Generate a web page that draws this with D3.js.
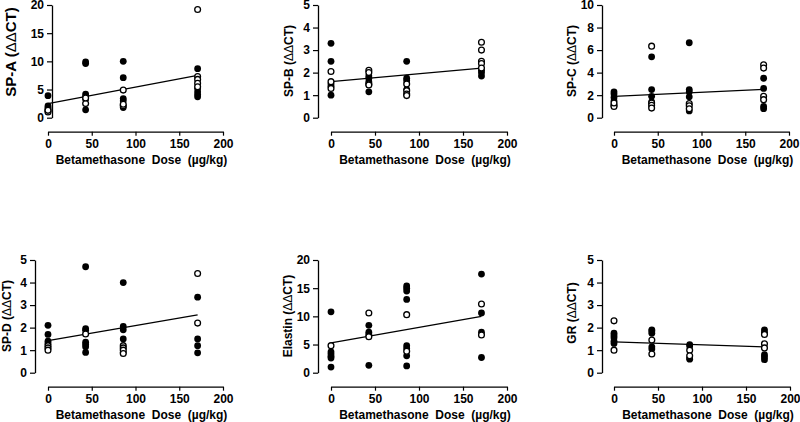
<!DOCTYPE html>
<html><head><meta charset="utf-8">
<script src="https://cdn.jsdelivr.net/npm/d3@7"></script>
<style>
html,body{margin:0;padding:0;background:#fff;}
svg{display:block;}
text{font-family:"Liberation Sans",Arial,sans-serif;font-weight:bold;fill:#000;}
</style></head>
<body>
<svg id="chart" width="800" height="422"></svg>
<script>
// ---- data ----
const doses = [0, 43, 86, 171];
const xTickValues = [0, 50, 100, 150, 200];
const xTitle = "Betamethasone\u00a0\u00a0Dose\u00a0\u00a0(\u00b5g/kg)";

const panelNames = ["SP-A", "SP-B", "SP-C", "SP-D", "Elastin", "GR"];
const yMaxes = [20, 5, 10, 5, 20, 5];
const yTickSteps = [5, 1, 2, 1, 5, 1];

const spaFilled = [[3.9, 2.1, 1.8, 1.5, 1.2], [9.9, 9.6, 4.2, 3.8, 3.3, 1.4], [10.0, 7.1, 3.4, 3.0, 1.8], [8.7, 5.2, 4.6, 4.1, 3.7]];
const spaOpen   = [[1.0, 1.3], [2.5, 3.5], [4.9, 2.1, 2.4], [19.2, 7.3, 6.8, 6.1, 5.5]];
const spaFit    = [2.5, 0.0292];

const spbFilled = [[3.3, 2.5, 1.5, 1.4, 1.0], [1.85, 1.75, 1.6, 1.15], [2.5, 1.75, 1.65, 1.25], [2.1, 2.0, 1.85]];
const spbOpen   = [[2.05, 1.6, 1.3], [2.1, 2.0, 1.5, 1.45], [1.5, 1.2, 1.05, 0.98], [3.35, 3.0, 2.5, 2.4, 2.2]];
const spbFit    = [1.6, 0.0035];

const spcFilled = [[2.3, 2.1, 1.8, 1.5], [5.4, 2.5, 1.9, 1.4], [6.65, 2.5, 2.3, 1.85, 0.6], [3.5, 2.6, 1.0, 0.8]];
const spcOpen   = [[1.1, 1.0, 1.3], [6.35, 1.3, 1.1, 0.85], [1.25, 1.05, 0.8], [4.7, 4.4, 1.9, 1.6]];
const spcFit    = [1.9, 0.0036];

const spdFilled = [[2.1, 1.7, 1.4, 1.3], [4.7, 1.95, 1.88, 1.35, 1.25, 1.15, 0.9], [4.0, 2.05, 1.9, 1.5, 0.9], [3.35, 1.5, 1.2, 0.88]];
const spdOpen   = [[1.2, 1.1, 1.0], [1.72], [1.2, 1.1, 1.0, 0.85], [4.4, 2.2]];
const spdFit    = [1.42, 0.0067];

const elastinFilled = [[10.8, 3.7, 3.3, 2.9, 2.6, 1.0], [8.4, 7.2, 6.8, 1.3], [15.4, 15.0, 14.5, 13.0, 4.8, 4.3, 3.0, 1.2], [17.5, 10.6, 7.2, 2.7]];
const elastinOpen   = [[4.8], [10.6, 6.4], [10.3, 3.8], [12.2, 6.7]];
const elastinFit    = [5.3, 0.0275];

const grFilled = [[1.75, 1.65, 1.55, 1.4, 1.3], [1.9, 1.85, 1.75, 1.15, 1.05], [1.25, 1.18, 0.65, 0.6], [1.9, 1.8, 0.8, 0.7, 0.58]];
const grOpen   = [[2.3, 1.0], [1.45, 0.83], [1.0, 0.75], [1.7, 1.28, 1.1]];
const grFit    = [1.37, -0.0013];

const filledSets = [spaFilled, spbFilled, spcFilled, spdFilled, elastinFilled, grFilled];
const openSets = [spaOpen, spbOpen, spcOpen, spdOpen, elastinOpen, grOpen];
const fits = [spaFit, spbFit, spcFit, spdFit, elastinFit, grFit];

// ---- layout ----
const layout = [
  {yAxisX: 52,  x0: 48,  x1: 223, yTop: 5,   yBot: 117.7, titleX: 10,  titleY: 52,  titleSize: 15},
  {yAxisX: 318, x0: 331, x1: 507, yTop: 5,   yBot: 117.7, titleX: 289, titleY: 61,  titleSize: 12},
  {yAxisX: 602, x0: 614, x1: 789, yTop: 5,   yBot: 117.7, titleX: 572, titleY: 61,  titleSize: 12},
  {yAxisX: 35,  x0: 48,  x1: 223, yTop: 260, yBot: 372.7, titleX: 7,   titleY: 316, titleSize: 12},
  {yAxisX: 318, x0: 331, x1: 507, yTop: 260, yBot: 372.7, titleX: 288, titleY: 316, titleSize: 12},
  {yAxisX: 602, x0: 614, x1: 790, yTop: 260, yBot: 372.7, titleX: 572, titleY: 313, titleSize: 12}
];

const svg = d3.select("#chart");

panelNames.forEach((name, i) => {
  const L = layout[i];
  const g = svg.append("g");
  const x = d3.scaleLinear().domain([0, 200]).range([L.x0, L.x1]);
  const y = d3.scaleLinear().domain([0, yMaxes[i]]).range([L.yBot, L.yTop]);
  const yTicks = d3.range(0, yMaxes[i] + 1e-9, yTickSteps[i]);

  // y axis
  const ya = g.append("g").attr("transform", `translate(${L.yAxisX},0)`)
    .call(d3.axisLeft(y).tickValues(yTicks).tickSize(5).tickSizeOuter(0).tickPadding(3).tickFormat(d3.format("d")));
  ya.select(".domain").attr("stroke", "#000").attr("stroke-width", 1.3);
  ya.selectAll(".tick line").attr("stroke", "#000").attr("stroke-width", 1.2);
  ya.selectAll(".tick text").style("font-size", "12px").style("font-family", "'Liberation Sans',Arial,sans-serif").style("font-weight", "bold");

  // x axis
  const axisY = L.yBot + 14;
  const xa = g.append("g").attr("transform", `translate(0,${axisY})`)
    .call(d3.axisBottom(x).tickValues(xTickValues).tickSize(4).tickSizeOuter(0).tickPadding(4).tickFormat(d3.format("d")));
  xa.select(".domain").attr("stroke", "#000").attr("stroke-width", 1.3);
  xa.selectAll(".tick line").attr("stroke", "#000").attr("stroke-width", 1.2);
  xa.selectAll(".tick text").style("font-size", "12px").style("font-family", "'Liberation Sans',Arial,sans-serif").style("font-weight", "bold");

  // x title
  g.append("text").attr("x", (L.x0 + L.x1) / 2 + 6).attr("y", axisY + 32)
    .attr("text-anchor", "middle").style("font-size", "12px").text(xTitle);

  // y title
  const t = g.append("text")
    .attr("transform", `translate(${L.titleX},${L.titleY}) rotate(-90)`)
    .attr("text-anchor", "middle").attr("dominant-baseline", "central")
    .style("font-size", L.titleSize + "px");
  t.append("tspan").text(name + " (");
  t.append("tspan").style("font-weight", "normal").text("\u0394\u0394");
  t.append("tspan").text("CT)");

  // regression line
  const fit = fits[i];
  const fitPts = [doses[0], doses[doses.length - 1]].map(d => [d, fit[0] + fit[1] * d]);
  g.append("path").attr("d", d3.line().x(d => x(d[0])).y(d => y(d[1]))(fitPts))
    .attr("stroke", "#000").attr("stroke-width", 1.3).attr("fill", "none");

  // points
  const filled = [], open = [];
  filledSets[i].forEach((arr, k) => arr.forEach(v => filled.push([doses[k], v])));
  openSets[i].forEach((arr, k) => arr.forEach(v => open.push([doses[k], v])));
  g.selectAll(null).data(filled).enter().append("circle")
    .attr("cx", d => x(d[0])).attr("cy", d => y(d[1])).attr("r", 3.4).attr("fill", "#000");
  g.selectAll(null).data(open).enter().append("circle")
    .attr("cx", d => x(d[0])).attr("cy", d => y(d[1])).attr("r", 2.9)
    .attr("fill", "#fff").attr("stroke", "#000").attr("stroke-width", 1.3);
});
</script>
</body></html>
